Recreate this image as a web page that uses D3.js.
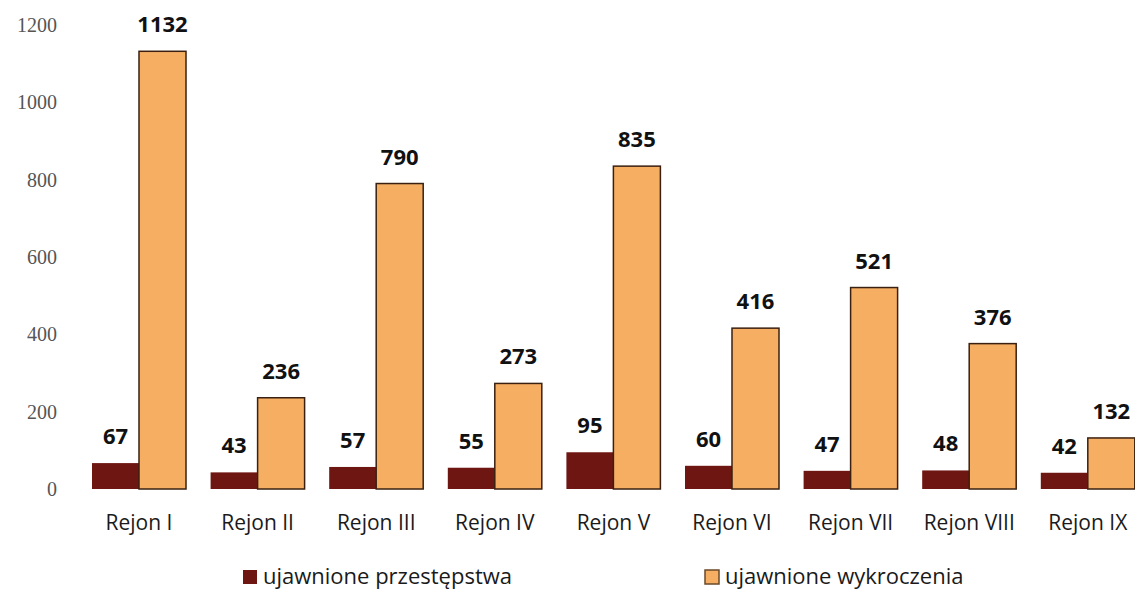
<!DOCTYPE html>
<html>
<head>
<meta charset="utf-8">
<script src="https://cdn.jsdelivr.net/npm/d3@7"></script>
<style>
  html, body { margin: 0; padding: 0; background: #ffffff; }
  svg { display: block; }
</style>
</head>
<body>
<svg id="chart" width="1135" height="591"></svg>
<script>
const categories = ["Rejon I", "Rejon II", "Rejon III", "Rejon IV", "Rejon V", "Rejon VI", "Rejon VII", "Rejon VIII", "Rejon IX"];
const przestepstwa = [67, 43, 57, 55, 95, 60, 47, 48, 42];
const wykroczenia = [1132, 236, 790, 273, 835, 416, 521, 376, 132];
const yTicks = [0, 200, 400, 600, 800, 1000, 1200];
const seriesNames = ["ujawnione przestępstwa", "ujawnione wykroczenia"];
const seriesColors = ["#6e1712", "#f6ae63"];

const svg = d3.select("#chart");

const x0 = d3.scaleBand().domain(categories).range([79.7, 1147.1]).paddingInner(0.2074).paddingOuter(0.1037);
const x1 = d3.scaleBand().domain([0, 1]).range([0, x0.bandwidth()]).padding(0);
const y = d3.scaleLinear().domain([0, 1200]).range([489, 25]);

// y axis tick labels
const yAxis = d3.axisLeft(y).tickValues(yTicks).tickSize(0).tickPadding(0).tickFormat(d3.format("d"));
const gy = svg.append("g").attr("transform", "translate(57,0)").call(yAxis);
gy.select(".domain").remove();
gy.selectAll("text")
  .attr("font-family", "'Liberation Serif', serif")
  .attr("font-size", 20)
  .attr("fill", "#555");

// groups
const rows = categories.map((c, i) => ({ cat: c, vals: [przestepstwa[i], wykroczenia[i]] }));
const g = svg.append("g").selectAll("g").data(rows).join("g")
  .attr("transform", d => `translate(${x0(d.cat)},0)`);

g.selectAll("rect").data(d => d.vals.map((v, k) => ({ v, k }))).join("rect")
  .attr("x", d => x1(d.k))
  .attr("y", d => y(d.v))
  .attr("width", x1.bandwidth())
  .attr("height", d => y(0) - y(d.v))
  .attr("fill", d => seriesColors[d.k])
  .attr("stroke", d => d.k === 1 ? "#3a2010" : "none")
  .attr("stroke-width", 1.5);

g.selectAll("text.val").data(d => d.vals.map((v, k) => ({ v, k }))).join("text")
  .attr("class", "val")
  .attr("x", d => x1(d.k) + x1.bandwidth() / 2)
  .attr("y", d => y(d.v) - 19)
  .attr("text-anchor", "middle")
  .attr("font-family", "'Open Sans', sans-serif")
  .attr("font-weight", 700)
  .attr("font-size", 22)
  .attr("fill", "#111")
  .text(d => d.v);

// category axis
const xAxis = d3.axisBottom(x0).tickSize(0).tickPadding(0);
const gx = svg.append("g").attr("transform", "translate(0,530)").call(xAxis);
gx.select(".domain").remove();
gx.selectAll("text")
  .attr("dy", 0)
  .attr("font-family", "'Open Sans', sans-serif")
  .attr("font-size", 21)
  .attr("fill", "#1a1a1a");

// legend
const legendX = [243, 705];
const lg = svg.append("g").selectAll("g").data(seriesNames).join("g")
  .attr("transform", (d, i) => `translate(${legendX[i]},570)`);
lg.append("rect")
  .attr("width", 14).attr("height", 14)
  .attr("fill", (d, i) => seriesColors[i])
  .attr("stroke", (d, i) => i === 1 ? "#6a4a2a" : "none")
  .attr("stroke-width", 1.5);
lg.append("text")
  .attr("x", 20).attr("y", 14)
  .attr("font-family", "'Open Sans', sans-serif")
  .attr("font-size", 22)
  .attr("fill", "#1a1a1a")
  .text(d => d);
</script>
</body>
</html>
